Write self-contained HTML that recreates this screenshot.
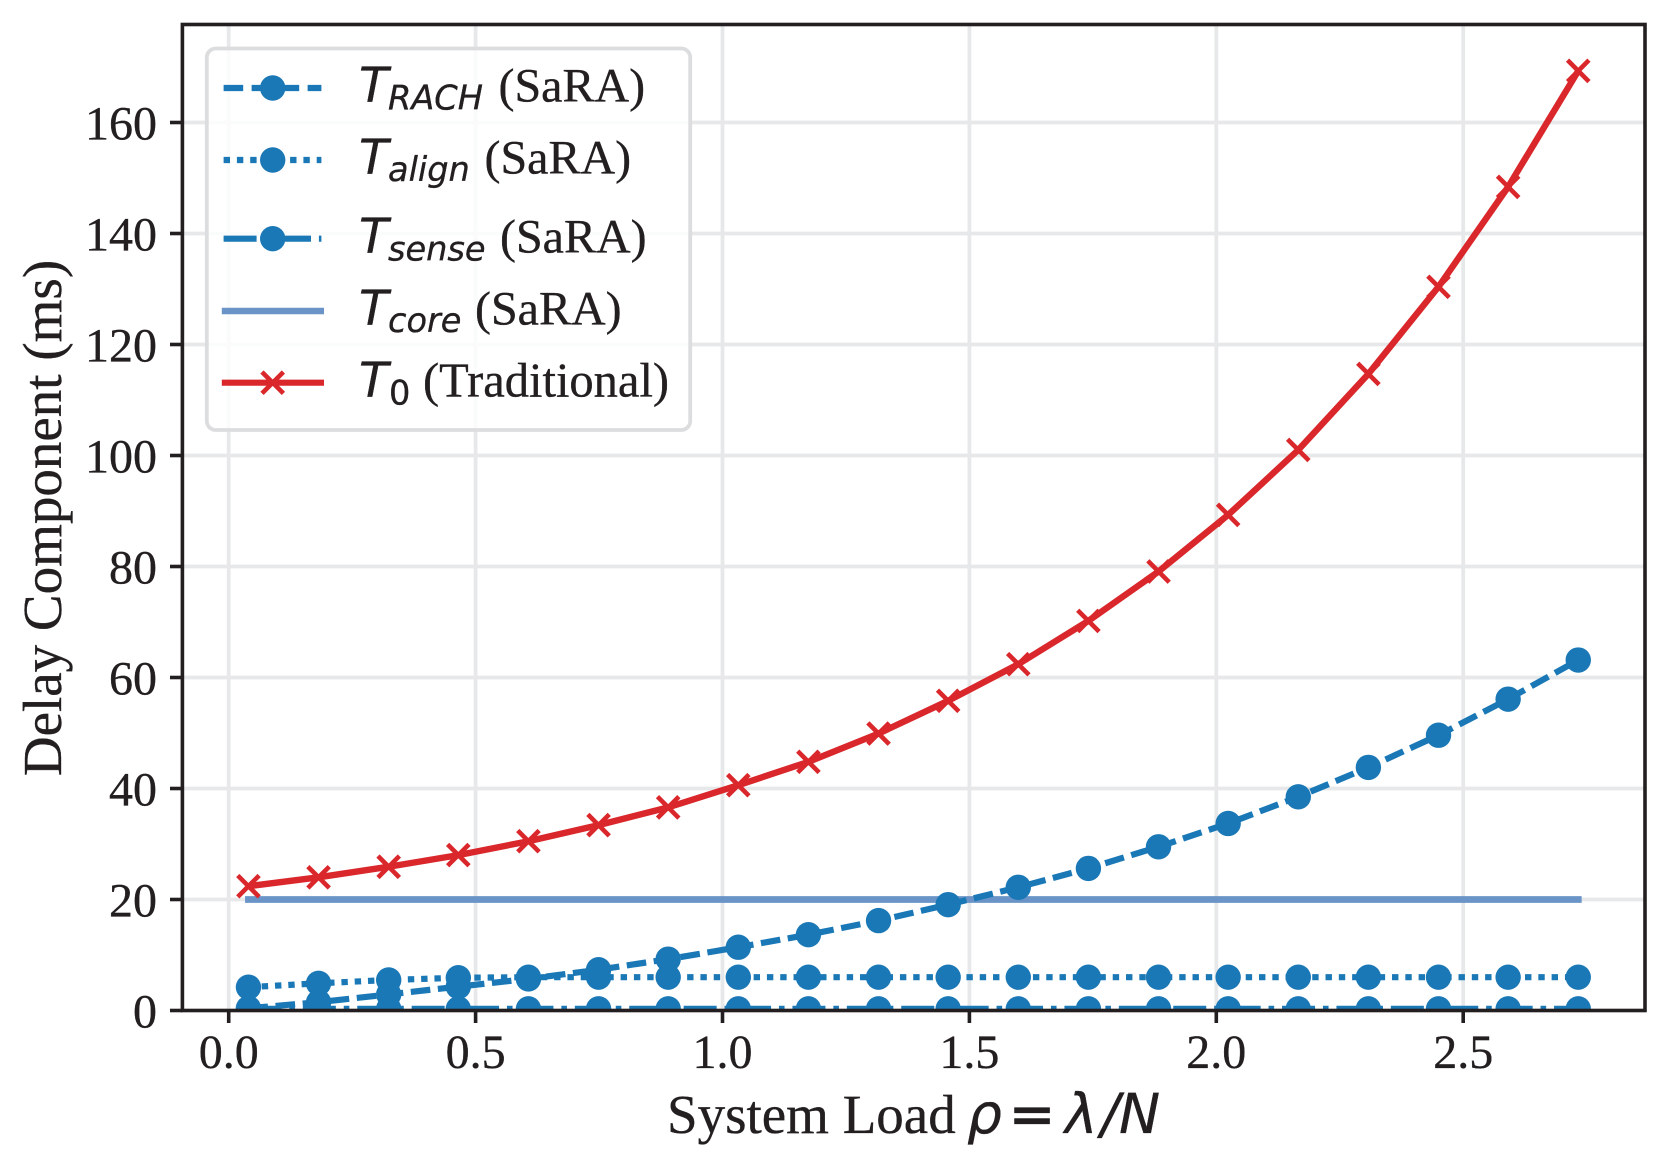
<!DOCTYPE html>
<html lang="en">
<head>
<meta charset="utf-8">
<title>Delay Component vs System Load</title>
<style>
html,body{margin:0;padding:0;background:#fff;}
svg{display:block;}
text{fill:#231f20;stroke:#231f20;stroke-width:0.35px;font-family:"Liberation Serif",serif;}
.m{font-family:"DejaVu Sans",sans-serif;font-style:italic;}
.mu{font-family:"DejaVu Sans",sans-serif;}
</style>
</head>
<body>
<svg id="chart" xmlns="http://www.w3.org/2000/svg" width="1670" height="1162" viewBox="0 0 1670 1162">
  <defs>
    <clipPath id="plot-clip"><rect x="182.4" y="24.5" width="1462.6" height="986"/></clipPath>
  </defs>
  <rect x="0" y="0" width="1670" height="1162" fill="#ffffff"/>
  <g id="grid"></g>
  <g id="series" clip-path="url(#plot-clip)"></g>
  <g id="spines">
    <rect x="182.4" y="24.5" width="1462.6" height="986" fill="none" stroke="#231f20" stroke-width="3.6"/>
  </g>
  <g id="ticks"></g>

  <text transform="translate(61,518) rotate(-90)" text-anchor="middle" font-size="55">Delay Component (ms)</text>
  <g font-size="55">
    <text x="667" y="1133" font-size="55">System Load</text>
    <text class="m" x="967" y="1133" font-size="55">ρ</text>
    <text class="mu" x="1009" y="1133" font-size="55" stroke-width="1.2" style="stroke-width:1.2px">=</text>
    <text class="m" x="1065" y="1133" font-size="55">λ</text>
    <text class="m" x="1101" y="1133" font-size="55">/</text>
    <text class="m" x="1119" y="1133" font-size="55">N</text>
  </g>

  <g>
    <rect x="206.8" y="48.5" width="483.4" height="381.5" rx="9" ry="9" fill="#ffffff" fill-opacity="0.8" stroke="#dcdddf" stroke-width="3.8"/>

    <g>
      <line x1="223.6" y1="88" x2="321.4" y2="88" stroke="#1a78b6" stroke-width="6.2" stroke-dasharray="19.6 8.4"/>
      <circle cx="272.7" cy="88" r="12.7" fill="#1a78b6"/>
      <text class="m" x="359" y="101.7" font-size="48">T</text>
      <text class="m" x="388" y="109.3" font-size="33.6">RACH</text>
      <text x="498.5" y="101.7" font-size="48">(SaRA)</text>
    </g>
    <g>
      <line x1="223.6" y1="160" x2="321.4" y2="160" stroke="#1a78b6" stroke-width="6.2" stroke-dasharray="6.4 6.9"/>
      <circle cx="272.7" cy="160" r="12.7" fill="#1a78b6"/>
      <text class="m" x="359" y="173.3" font-size="48">T</text>
      <text class="m" x="388" y="181" font-size="33.6">align</text>
      <text x="484.5" y="173.3" font-size="48">(SaRA)</text>
    </g>
    <g>
      <line x1="223.6" y1="238.7" x2="321.4" y2="238.7" stroke="#1a78b6" stroke-width="6.2" stroke-dasharray="33 7.9 5.6 7.9"/>
      <circle cx="272.7" cy="238.7" r="12.7" fill="#1a78b6"/>
      <text class="m" x="359" y="252.7" font-size="48">T</text>
      <text class="m" x="388" y="260.4" font-size="33.6">sense</text>
      <text x="500" y="252.7" font-size="48">(SaRA)</text>
    </g>
    <g>
      <line x1="221.8" y1="311" x2="324" y2="311" stroke="#6a94c7" stroke-width="6.4"/>
      <text class="m" x="359" y="324.3" font-size="48">T</text>
      <text class="m" x="388" y="332" font-size="33.6">core</text>
      <text x="475" y="324.3" font-size="48">(SaRA)</text>
    </g>
    <g>
      <line x1="221.8" y1="382.7" x2="324" y2="382.7" stroke="#da272b" stroke-width="6.2"/>
      <path d="M262 372L283.4 393.4M262 393.4L283.4 372" stroke="#da272b" stroke-width="4.6" fill="none"/>
      <text class="m" x="359" y="396.7" font-size="48">T</text>
      <text class="mu" x="389" y="404.4" font-size="33.6">0</text>
      <text x="423" y="396.7" font-size="48.5">(Traditional)</text>
    </g>
  </g>
</svg>
<script>
// Chart data
var xValues = [0.04,0.182,0.324,0.465,0.607,0.749,0.89,1.032,1.174,1.316,1.457,1.599,1.741,1.883,2.024,2.166,2.308,2.45,2.591,2.733];
var tRach = [0.4,1.5,2.9,4.3,5.7,7.35,9.25,11.4,13.66,16.2,19.07,22.2,25.6,29.5,33.7,38.5,43.8,49.6,56.1,63.15];
var tAlign = [4.2,4.9,5.5,5.9,6,6,6,6,6,6,6,6,6,6,6,6,6,6,6,6];
var tSense = [0.3,0.3,0.3,0.3,0.3,0.3,0.3,0.3,0.3,0.3,0.3,0.3,0.3,0.3,0.3,0.3,0.3,0.3,0.3,0.3];
var tCore = [20,20,20,20,20,20,20,20,20,20,20,20,20,20,20,20,20,20,20,20];
var tZero = [22.4,24.0,25.9,28.0,30.5,33.4,36.6,40.6,44.8,49.9,55.8,62.4,70.2,79.1,89.3,101,114.7,130.4,148.4,169.3];
var xTickValues = [0,0.5,1,1.5,2,2.5];
var xTickLabels = ["0.0","0.5","1.0","1.5","2.0","2.5"];
var yTickValues = [0,20,40,60,80,100,120,140,160];
var yTickLabels = ["0","20","40","60","80","100","120","140","160"];

var NS = 'http://www.w3.org/2000/svg';
function xAxis(v){ return 228.7 + 493.8 * v; }
function yAxis(v){ return 1010.5 - 5.55 * v; }
function node(tag, attrs, parent){
  var el = document.createElementNS(NS, tag);
  for (var k in attrs) el.setAttribute(k, attrs[k]);
  parent.appendChild(el);
  return el;
}
function pointsOf(values){
  return values.map(function(v, i){ return xAxis(xValues[i]).toFixed(2) + ',' + yAxis(v).toFixed(2); }).join(' ');
}

var gridLayer = document.getElementById('grid');
var tickLayer = document.getElementById('ticks');
var seriesLayer = document.getElementById('series');

xTickValues.forEach(function(t, i){
  var x = xAxis(t);
  var g = node('line', {x1:x, y1:24.5, x2:x, y2:1010.5, stroke:'#e7e8ea', 'stroke-width':3.8}, gridLayer);
  
  
  var tk = node('line', {x1:x, y1:1010.5, x2:x, y2:1023, stroke:'#231f20', 'stroke-width':3.6}, tickLayer);
  
  
  var lb = node('text', {x:x, y:1068, 'text-anchor':'middle', 'font-size':48}, tickLayer);
  lb.textContent = xTickLabels[i];
  
  
});

yTickValues.forEach(function(t, i){
  var y = yAxis(t);
  var g = node('line', {x1:182.4, y1:y, x2:1645, y2:y, stroke:'#e7e8ea', 'stroke-width':3.8}, gridLayer);
  
  
  var tk = node('line', {x1:170, y1:y, x2:182.4, y2:y, stroke:'#231f20', 'stroke-width':3.6}, tickLayer);
  
  
  var lb = node('text', {x:157, y:y + 17, 'text-anchor':'end', 'font-size':48}, tickLayer);
  lb.textContent = yTickLabels[i];
  
  
});

function drawCircles(values, parent){
  values.forEach(function(v, i){
    var c = node('circle', {cx:xAxis(xValues[i]), cy:yAxis(v), r:12.7, fill:'#1a78b6'}, parent);
    
    
  });
}

// T_core (drawn beneath the other series)
var coreLine = node('polyline', {points:pointsOf(tCore), fill:'none', stroke:'#6a94c7', 'stroke-width':6.8, 'stroke-linecap':'square'}, seriesLayer);



// T_RACH
var rachGroup = node('g', {}, seriesLayer);


var rachLine = node('polyline', {points:pointsOf(tRach), fill:'none', stroke:'#1a78b6', 'stroke-width':6.2, 'stroke-dasharray':'19.6 7.6'}, rachGroup);


drawCircles(tRach, rachGroup);

// T_align
var alignGroup = node('g', {}, seriesLayer);


var alignLine = node('polyline', {points:pointsOf(tAlign), fill:'none', stroke:'#1a78b6', 'stroke-width':6.2, 'stroke-dasharray':'6.4 6.9'}, alignGroup);


drawCircles(tAlign, alignGroup);

// T_sense
var senseGroup = node('g', {}, seriesLayer);


var senseLine = node('polyline', {points:pointsOf(tSense), fill:'none', stroke:'#1a78b6', 'stroke-width':6.2, 'stroke-dasharray':'33 7.9 5.6 7.9'}, senseGroup);


drawCircles(tSense, senseGroup);

// T_0 traditional
var zeroGroup = node('g', {}, seriesLayer);


var zeroLine = node('polyline', {points:pointsOf(tZero), fill:'none', stroke:'#da272b', 'stroke-width':6.4, 'stroke-linejoin':'round'}, zeroGroup);


tZero.forEach(function(v, i){
  var cx = xAxis(xValues[i]), cy = yAxis(v), h = 10.7;
  var mk = node('path', {d:'M'+(cx-h)+' '+(cy-h)+'L'+(cx+h)+' '+(cy+h)+'M'+(cx-h)+' '+(cy+h)+'L'+(cx+h)+' '+(cy-h), fill:'none', stroke:'#da272b', 'stroke-width':4.6}, zeroGroup);
  
  
});
</script>
</body>
</html>
